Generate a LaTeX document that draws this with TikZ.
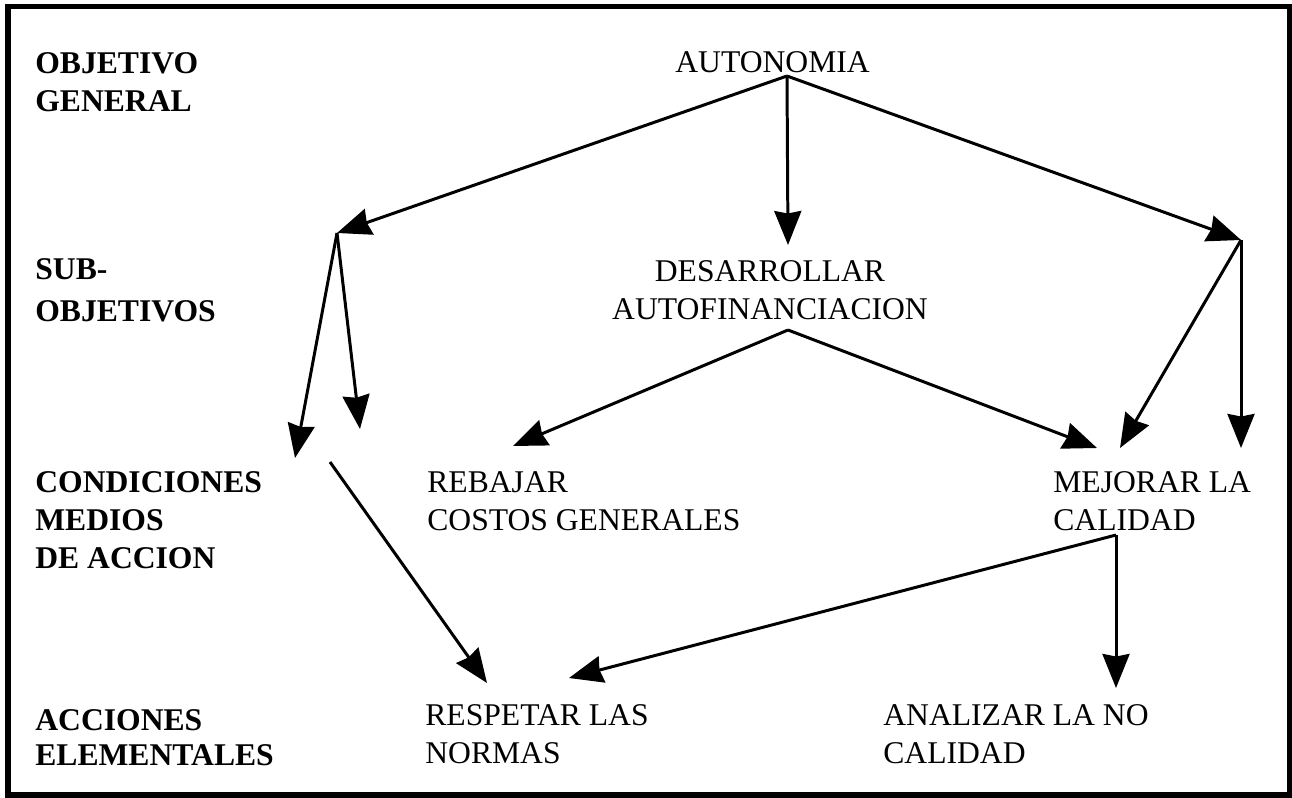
\documentclass[tikz,border=0pt]{standalone}
\usepackage{fontspec}
\setmainfont{Liberation Serif}
\usetikzlibrary{arrows.meta}
\begin{document}
\begin{tikzpicture}[x=0.02cm,y=-0.02cm,
	lbl/.style={anchor=base west,inner sep=0pt,align=left,font=\fontsize{18}{21.6}\selectfont\bfseries},
	txt/.style={anchor=base west,inner sep=0pt,align=left,font=\fontsize{18}{21.6}\selectfont},
	arr/.style={line width=1.7pt,-{Stealth[length=0.68cm,width=0.54cm,inset=0.05cm]}}]
	\useasboundingbox (0,0) rectangle (1292,798);
	\draw[line width=3pt] (8,6.5) rectangle (1289.5,795);
			\path
			(787,76) coordinate (A)
			(337,233) coordinate (B)
			(788,245) coordinate (C)
			(1241,240) coordinate (D)
			(295,458) coordinate (E)
			(360,429) coordinate (F)
			(330,462) coordinate (G)
			(487,683) coordinate (H)
			(788,330) coordinate (I)
			(513,446) coordinate (J)
			(1097,448) coordinate (K)
			(1120,448) coordinate (L)
			(1241,448) coordinate (M)
			(1116,535) coordinate (N)
			(569,678) coordinate (O)
			(1116,688) coordinate (P)
			;
	% niveles (base = ultima linea)
	\node[lbl] (objgen) at (35,111) {OBJETIVO\\GENERAL};
	\node[lbl] (subobj) at (35,321) {SUB-\\[0.08cm]OBJETIVOS};
	\node[lbl] (condmed) at (35,568) {CONDICIONES\\MEDIOS\\DE ACCION};
	\node[lbl] (accelem) at (35,765) {ACCIONES\\[-0.06cm]ELEMENTALES};
	% textos
	\node[txt] (autonomia) at (675,72) {AUTONOMIA};
	\node[txt,align=center,anchor=base] (desarrollar) at (770,319) {DESARROLLAR\\AUTOFINANCIACION};
	\node[txt] (rebajar) at (427,530) {REBAJAR\\COSTOS GENERALES};
	\node[txt] (mejorar) at (1053,530) {MEJORAR LA\\CALIDAD};
	\node[txt] (respetar) at (425,763) {RESPETAR LAS\\NORMAS};
	\node[txt] (analizar) at (883,763) {ANALIZAR LA NO\\CALIDAD};
			\draw[arr] (A)--(B);
			\draw[arr] (A)--(C);
			\draw[arr] (A)--(D);
			\draw[arr] (B)--(E);
			\draw[arr] (B)--(F);
			\draw[arr] (G)--(H);
			\draw[arr] (I)--(J);
			\draw[arr] (I)--(K);
			\draw[arr] (D)--(L);
			\draw[arr] (D)--(M);
			\draw[arr] (N)--(O);
			\draw[arr] (N)--(P);
\end{tikzpicture}
\end{document}
